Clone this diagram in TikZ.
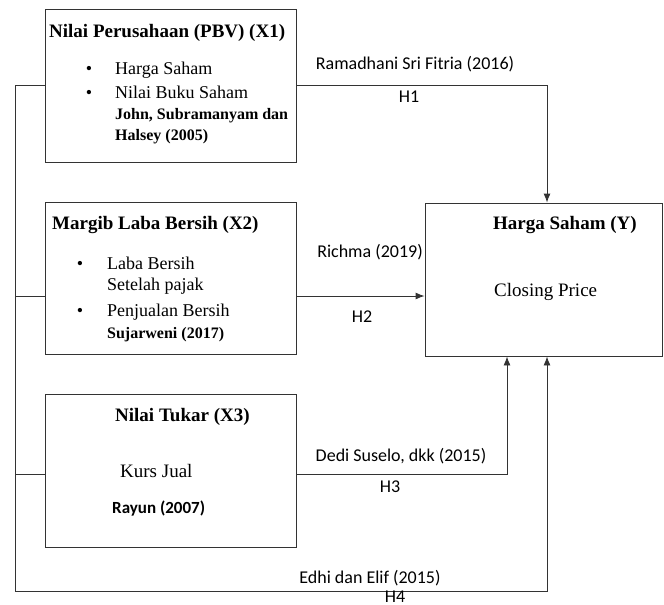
\documentclass[tikz,border=0pt]{standalone}
\usepackage{fontspec}
\setmainfont{Liberation Serif}
\newfontfamily\calibri{Carlito}
\usetikzlibrary{positioning,arrows.meta}

\begin{document}
\begin{tikzpicture}[x=1pt,y=-1pt,
    box/.style={draw=black!80, line width=0.9pt, minimum width=251pt, minimum height=153pt, inner sep=0pt},
    conn/.style={draw=black!80, line width=0.9pt},
    tip/.style={-{Latex[length=9pt,width=7pt]}},
    lbl/.style={font=\calibri\fontsize{18}{20}\selectfont, anchor=base, inner sep=0pt},
    ttl/.style={font=\bfseries\fontsize{19}{22}\selectfont, anchor=base west, inner sep=0pt},
    itm/.style={font=\fontsize{18}{21}\selectfont, anchor=base west, inner sep=0pt},
    bul/.style={font=\fontsize{18}{21}\selectfont, anchor=base, inner sep=0pt},
    src/.style={font=\bfseries\fontsize{16}{19}\selectfont, anchor=base west, inner sep=0pt}]
    \useasboundingbox (0,0) rectangle (664,605);

    % boxes
    \node[box] (x1) at (170.5,85.5) {};
    \node[box, minimum height=152pt] (x2) at (170.5,278) {};
    \node[box] (x3) at (170.5,470.5) {};
    \node[box, minimum width=237pt] (y) at (543.5,279.5) {};

    % X1
    \node[ttl] (x1t) at (49,37) {Nilai Perusahaan (PBV) (X1)};
    \node[bul] (x1b1) at (89,74) {•};
    \node[itm] (x1i1) at (115,74) {Harga Saham};
    \node[bul] (x1b2) at (89,98) {•};
    \node[itm] (x1i2) at (115,98) {Nilai Buku Saham};
    \node[src] (x1s1) at (115,119) {John, Subramanyam dan};
    \node[src] (x1s2) at (115,140) {Halsey (2005)};

    % X2
    \node[ttl] (x2t) at (52,229) {Margib Laba Bersih (X2)};
    \node[bul] (x2b1) at (80,269) {•};
    \node[itm] (x2i1) at (107,269) {Laba Bersih};
    \node[itm] (x2i2) at (107,290) {Setelah pajak};
    \node[bul] (x2b2) at (80,316) {•};
    \node[itm] (x2i3) at (107,316) {Penjualan Bersih};
    \node[src] (x2s) at (107,338) {Sujarweni (2017)};

    % X3
    \node[ttl] (x3t) at (115,421) {Nilai Tukar (X3)};
    \node[itm, font=\fontsize{19}{22}\selectfont] (x3i) at (120,477) {Kurs Jual};
    \node[src, font=\calibri\bfseries\fontsize{17}{20}\selectfont] (x3s) at (112,513) {Rayun (2007)};

    % Y
    \node[ttl] (yt) at (493,229) {Harga Saham (Y)};
    \node[itm, font=\fontsize{19}{22}\selectfont] (yi) at (494,296) {Closing Price};

    % connectors
    \coordinate (spine) at (15,591);
    \coordinate (x2e) at ([yshift=-18pt]x2.east);
    \coordinate (x2w) at ([yshift=-18pt]x2.west);
    \coordinate (x3e) at ([yshift=-3.5pt]x3.east);
    \coordinate (x3w) at ([yshift=-3.5pt]x3.west);

    \draw[conn, tip] (x1.east) -| ([xshift=3.5pt]y.north);
    \draw[conn, tip] (x2e) -- (x2e -| y.west);
    \draw[conn, tip] (x3e) -| ([xshift=-36.5pt]y.south);
    \draw[conn, tip] (x1.west) -| (spine) -| ([xshift=3.5pt]y.south);
    \draw[conn] (x2w) -- (x2w -| spine);
    \draw[conn] (x3w) -- (x3w -| spine);

    % labels
    \node[lbl] (l1) at (415,69) {Ramadhani Sri Fitria (2016)};
    \node[lbl] (h1) at (409,102) {H1};
    \node[lbl] (l2) at (370,257) {Richma (2019)};
    \node[lbl] (h2) at (362,322) {H2};
    \node[lbl] (l3) at (401,461) {Dedi Suselo, dkk (2015)};
    \node[lbl] (h3) at (390,492) {H3};
    \node[lbl] (l4) at (370,583) {Edhi dan Elif (2015)};
    \node[lbl] (h4) at (395,602) {H4};
\end{tikzpicture}
\end{document}
